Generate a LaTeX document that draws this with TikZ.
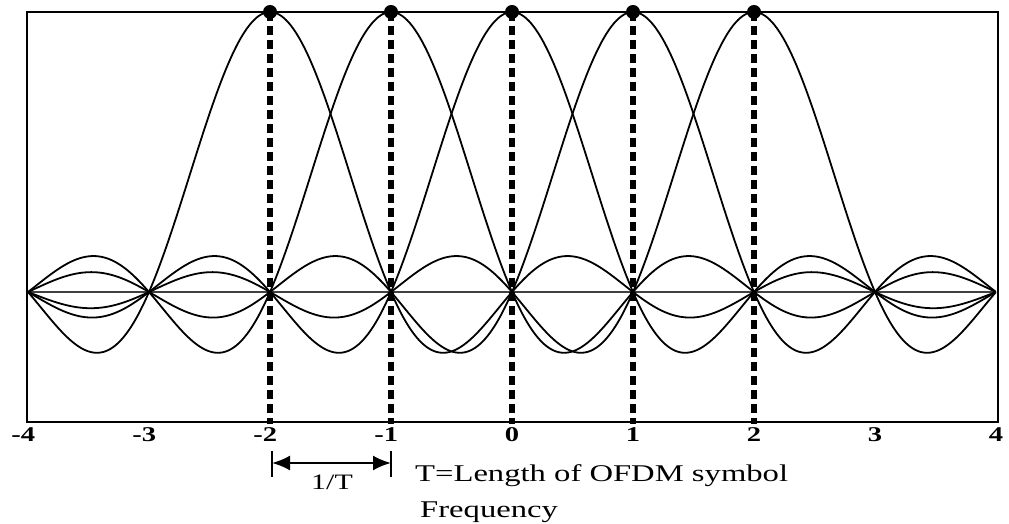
\documentclass[tikz,border=0pt]{standalone}
\usepackage{fontspec}
\setmainfont{Liberation Serif}
\usetikzlibrary{arrows.meta}
\tikzset{
  curve/.style={line width=1.8pt, black, line join=round},
  frame/.style={line width=2.6pt, black},
  axisline/.style={line width=1.4pt, black!75},
  guide/.style={line width=5.5pt, black, dash pattern=on 9pt off 5pt},
  peakdot/.style={circle, fill=black, inner sep=0pt, minimum size=14pt},
  ticklab/.style={anchor=base, inner sep=0pt, font=\fontsize{21}{25}\selectfont\bfseries},
  txt/.style={anchor=base west, inner sep=0pt, font=\fontsize{24}{28}\selectfont},
  spacing/.style={line width=2.2pt, black, {Latex[length=18pt,width=15pt]}-{Latex[length=18pt,width=15pt]}},
  bar/.style={line width=2.2pt, black}
}
\newcommand{\wide}[1]{\scalebox{1.36}[1]{#1}}
\begin{document}
\begin{tikzpicture}[x=1pt,y=1pt]
\useasboundingbox (0,0) rectangle (1009,524);
% frame
\coordinate (bl) at (27,102);
\coordinate (tr) at (998,512);
\draw[frame] (bl) rectangle (tr);
% zero line
\coordinate (z0) at (28,232);
\coordinate (z1) at (996,232);
\draw[axisline] (z0) -- (z1);
% sinc curves
\foreach \k in {-2,...,2}{
  \draw[curve] plot[domain=-4:4, samples=200, smooth]
    ({512+121*\x},{232+280*sin(180*(\x-\k))/(pi*(\x-\k))});
}
% peaks and dashed guides
\foreach \k in {-2,...,2}{
  \node[peakdot] (p\k) at ({512+121*\k},512) {};
  \coordinate (b\k) at ({512+121*\k},100);
  \draw[guide] (p\k.center) -- (b\k);
}
% tick labels
\foreach \k/\lab in {-4/{\llap{-}4},-3/{\llap{-}3},-2/{\llap{-}2},-1/{\llap{-}1},0/0,1/1,2/2,3/3,4/4}{
  \node[ticklab] (t\k) at ({512+121*\k},82) {\wide{\lab}};
}
% spacing arrow
\coordinate (s1) at (272,61);
\coordinate (s2) at (391,61);
\coordinate (s1t) at (272,73);
\coordinate (s1b) at (272,47);
\coordinate (s2t) at (391,73);
\coordinate (s2b) at (391,47);
\draw[bar] (s1t) -- (s1b);
\draw[bar] (s2t) -- (s2b);
\draw[spacing] (s1) -- (s2);
\node[anchor=base, inner sep=0pt, font=\fontsize{22}{26}\selectfont] (inv) at (332,34) {\wide{1/T}};
% texts
\node[txt] (len) at (415,42) {\wide{T=Length of OFDM symbol}};
\node[txt] (freq) at (420,6) {\wide{Frequency}};
\end{tikzpicture}
\end{document}
